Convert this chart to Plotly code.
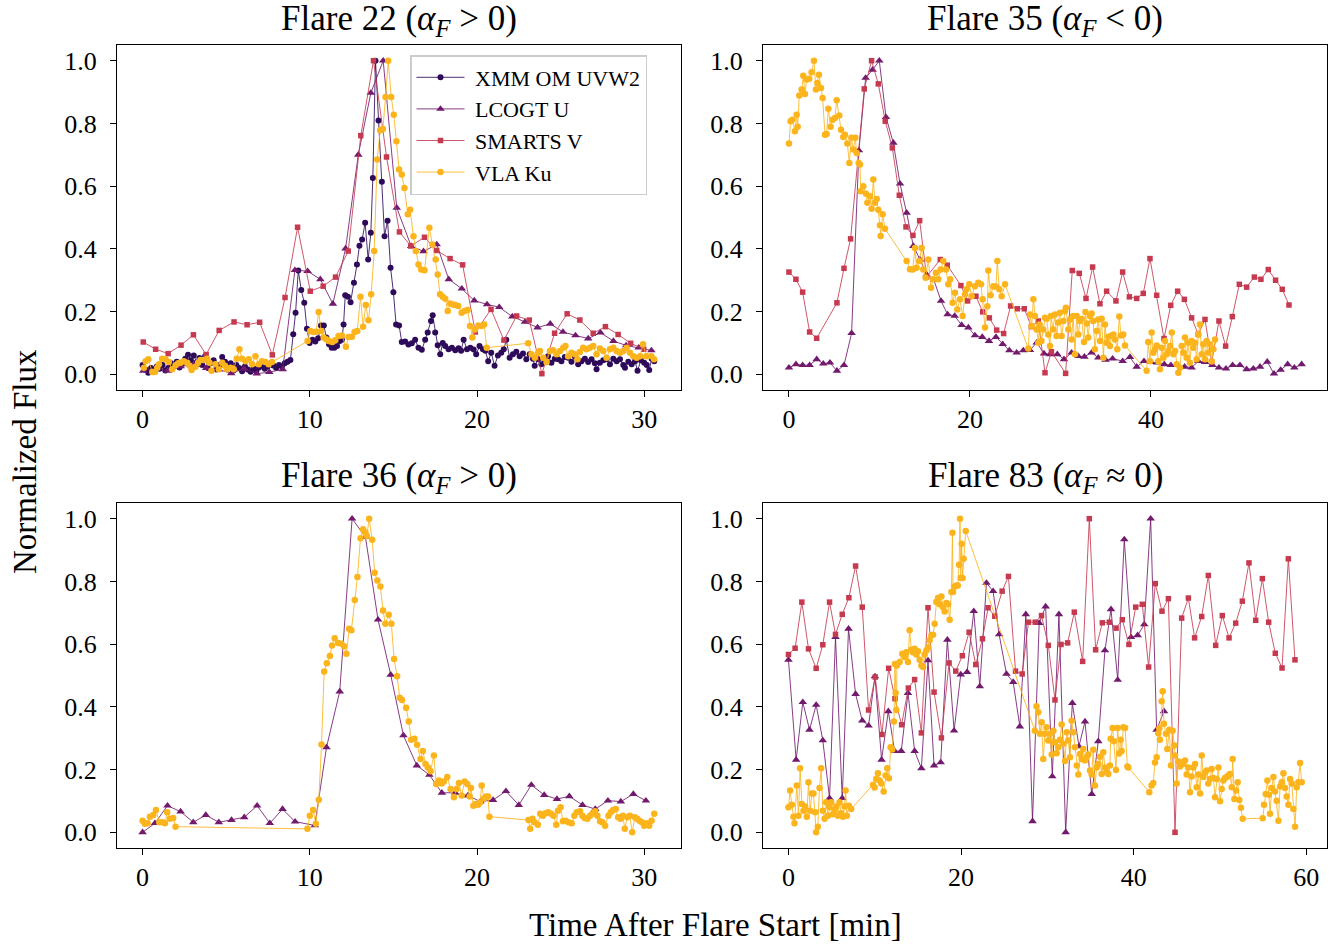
import plotly.graph_objects as go

# ---------------------------------------------------------------------------
# Normalized light curves, (time after flare start [min], normalized flux)
# ---------------------------------------------------------------------------

# Flare 22
f22_xmm = [
    (0.0, .03), (0.17, .015), (0.34, .005), (0.51, .02), (0.68, .01), (0.85, .025), (1.02, .018),
    (1.19, .03), (1.36, .012), (1.53, .02), (1.7, .035), (1.87, .028), (2.04, .04), (2.21, .022),
    (2.38, .035), (2.55, .05), (2.72, .062), (2.89, .045), (3.06, .06), (3.23, .038), (3.4, .052),
    (3.57, .03), (3.74, .058), (3.91, .02), (4.08, .035), (4.25, .045), (4.42, .015), (4.59, .03),
    (4.76, .055), (4.93, .04), (5.1, .025), (5.27, .035), (5.44, .012), (5.61, .03), (5.78, .02),
    (5.95, .01), (6.12, .025), (6.29, .015), (6.46, .008), (6.63, .02), (6.8, .01), (6.97, .022),
    (7.14, .03), (7.31, .018), (7.48, .025), (7.65, .035), (7.82, .028), (7.99, .02), (8.16, .03),
    (8.33, .025), (8.5, .035), (8.67, .04), (8.84, .046), (9.01, .128), (9.15, .196), (9.31, .331),
    (9.49, .269), (9.67, .228), (9.83, .145), (9.99, .10), (10.16, .11), (10.33, .105), (10.5, .115),
    (10.67, .156), (10.84, .156), (10.99, .117), (11.15, .096), (11.31, .085), (11.47, .085),
    (11.63, .09), (11.79, .106), (11.92, .11), (12.02, .159), (12.12, .252), (12.28, .247),
    (12.44, .230), (12.64, .292), (12.82, .35), (12.97, .41), (13.13, .43), (13.31, .483),
    (13.49, .366), (13.65, .451), (13.77, .626), (13.93, 1.0), (14.11, .809), (14.31, .614),
    (14.47, .44), (14.65, .49), (14.83, .34), (15.0, .262), (15.16, .159), (15.34, .156),
    (15.5, .103), (15.7, .105), (15.9, .095), (16.1, .099), (16.3, .11), (16.5, .085), (16.7, .078),
    (16.9, .11), (17.05, .133), (17.25, .17), (17.35, .188), (17.5, .133), (17.65, .093),
    (17.8, .064), (17.95, .1), (18.1, .09), (18.3, .08), (18.5, .085), (18.7, .077), (18.9, .083),
    (19.05, .075), (19.2, .11), (19.4, .08), (19.6, .085), (19.8, .079), (19.95, .064), (20.15, .09),
    (20.35, .08), (20.5, .075), (20.67, .042), (20.85, .069), (21.05, .027), (21.25, .06),
    (21.45, .069), (21.6, .08), (21.75, .11), (21.95, .053), (22.15, .064), (22.35, .072),
    (22.55, .058), (22.75, .066), (22.95, .048), (23.15, .064), (23.35, .05), (23.45, .027),
    (23.65, .048), (23.85, .032), (24.05, .045), (24.25, .058), (24.45, .037), (24.65, .05),
    (24.85, .048), (25.05, .042), (25.25, .055), (25.45, .053), (25.65, .04), (25.85, .058),
    (26.05, .032), (26.25, .042), (26.45, .05), (26.65, .039), (26.85, .048), (27.05, .035),
    (27.15, .016), (27.35, .037), (27.55, .045), (27.75, .048), (27.95, .032), (28.15, .05),
    (28.35, .042), (28.55, .048), (28.75, .03), (28.85, .021), (29.05, .04), (29.25, .032),
    (29.45, .042), (29.6, .011), (29.8, .045), (30.0, .037), (30.15, .03), (30.3, .014),
    (30.45, .05), (30.6, .042),
]
f22_lcogt = [
    (0.04, .011), (0.8, .02), (1.51, .011), (2.28, .025), (3.04, .03), (3.8, .02), (4.56, .015),
    (5.3, .003), (6.07, .018), (6.83, .002), (7.58, .007), (8.38, .016), (9.11, .332), (9.87, .329),
    (10.63, .303), (11.38, .225), (12.14, .401), (12.9, .70), (13.65, .897), (14.39, 1.0),
    (15.2, .531), (16.06, .409), (16.8, .392), (17.59, .414), (18.31, .303), (19.09, .273),
    (19.84, .235), (20.6, .223), (21.33, .214), (22.11, .184), (22.87, .167), (23.62, .149),
    (24.38, .161), (25.14, .135), (25.89, .124), (26.65, .114), (27.38, .133), (28.16, .106),
    (28.92, .092), (29.67, .085), (30.43, .076),
]
f22_smarts = [
    (0.04, .103), (0.78, .08), (1.53, .066), (2.3, .093), (3.04, .126), (3.8, .063), (4.58, .14),
    (5.47, .167), (6.25, .158), (7.0, .166), (7.76, .062), (8.52, .245), (9.27, .469), (10.03, .265),
    (10.8, .281), (11.54, .31), (12.3, .393), (13.05, .761), (13.81, 1.0), (14.59, .693),
    (15.36, .454), (16.04, .409), (16.86, .437), (17.59, .395), (18.39, .369), (19.14, .349),
    (19.9, .135), (20.84, .207), (21.61, .109), (22.37, .186), (23.13, .173), (23.88, .002),
    (24.64, .131), (25.39, .193), (26.15, .173), (26.95, .131), (27.68, .152), (28.44, .127),
    (29.19, .099), (29.97, .08),
]
f22_vla = [
    (0.08, .021), (0.18, .042), (0.34, .048), (0.58, .007), (0.74, .007), (0.88, .021), (0.98, .032),
    (1.17, .05), (1.37, .048), (1.57, .039), (1.77, .016), (1.97, .029), (2.13, .035), (2.27, .037),
    (2.47, .042), (2.67, .037), (2.81, .027), (2.93, .014), (3.16, .024), (3.32, .037), (3.46, .046),
    (3.66, .046), (3.86, .05), (4.0, .037), (4.12, .011), (4.36, .032), (4.56, .016), (4.76, .037),
    (4.92, .027), (5.05, .016), (5.25, .021), (5.45, .016), (5.63, .05), (5.79, .08), (5.95, .05),
    (6.15, .042), (6.35, .048), (6.55, .032), (6.75, .058), (6.95, .032), (7.14, .042), (7.34, .039),
    (7.54, .032), (7.74, .039), (9.87, .106), (10.03, .138), (10.2, .135), (10.38, .136),
    (10.53, .199), (10.68, .138), (10.83, .117), (10.98, .112), (11.13, .106), (11.33, .103),
    (11.52, .109), (11.72, .122), (11.92, .124), (12.16, .088), (12.32, .119), (12.52, .12),
    (12.68, .135), (12.84, .138), (13.03, .247), (13.19, .152), (13.35, .221), (13.51, .172),
    (13.67, .255), (13.85, .393), (14.03, .685), (14.21, .778), (14.37, .782), (14.53, .884),
    (14.69, 1.0), (14.87, .884), (15.02, .828), (15.18, .743), (15.34, .653), (15.5, .637),
    (15.66, .594), (15.86, .51), (16.0, .525), (16.2, .44), (16.34, .393), (16.5, .35), (16.66, .334),
    (16.86, .332), (17.15, .467), (17.33, .414), (17.53, .366), (17.65, .318), (17.79, .255),
    (17.95, .247), (18.1, .241), (18.25, .202), (18.39, .226), (18.55, .223), (18.7, .221),
    (18.88, .218), (19.08, .196), (19.25, .202), (19.44, .205), (19.58, .154), (19.72, .117),
    (19.88, .143), (20.08, .156), (20.27, .154), (20.43, .159), (20.58, .085), (23.06, .099),
    (23.26, .064), (23.46, .053), (23.66, .069), (23.76, .074), (23.96, .053), (24.16, .039),
    (24.36, .074), (24.56, .077), (24.76, .064), (24.96, .074), (25.16, .085), (25.29, .09),
    (25.45, .058), (25.65, .069), (25.85, .064), (26.01, .048), (26.15, .071), (26.35, .085),
    (26.55, .08), (26.75, .085), (26.95, .09), (27.15, .064), (27.35, .082), (27.55, .074),
    (27.75, .053), (27.95, .08), (28.15, .085), (28.35, .074), (28.55, .069), (28.75, .074),
    (28.95, .085), (29.15, .069), (29.35, .058), (29.55, .053), (29.75, .058), (29.93, .096),
    (30.13, .058), (30.43, .058), (30.59, .048),
]

# Flare 35
f35_lcogt = [
    (0.0, .021), (0.77, .032), (1.51, .029), (2.28, .029), (3.06, .048), (3.79, .034), (4.53, .037),
    (5.3, .011), (6.08, .029), (6.92, .131), (7.73, .714), (8.47, .945), (9.24, .971), (9.98, 1.0),
    (10.72, .82), (11.53, .738), (12.27, .608), (13.0, .515), (13.74, .409), (14.48, .366),
    (15.21, .318), (16.02, .30), (16.8, .234), (17.53, .191), (18.31, .186), (19.08, .157),
    (19.82, .149), (20.55, .124), (21.36, .119), (22.1, .106), (22.87, .119), (23.61, .096),
    (24.35, .076), (25.16, .069), (25.89, .076), (26.63, .077), (27.37, .101), (28.18, .066),
    (28.84, .064), (29.65, .064), (30.39, .048), (31.23, .069), (31.97, .058), (32.64, .056),
    (33.44, .069), (34.18, .053), (34.99, .046), (35.76, .05), (36.87, .042), (37.68, .055),
    (38.42, .024), (39.23, .042), (40.0, .039), (40.7, .037), (41.47, .032), (42.2, .029),
    (42.95, .029), (43.72, .024), (44.49, .021), (45.23, .042), (45.97, .039), (46.78, .029),
    (47.51, .021), (48.29, .018), (49.02, .029), (49.83, .029), (50.57, .016), (51.31, .018),
    (52.05, .024), (52.85, .04), (53.59, .002), (54.33, .014), (55.1, .032), (55.84, .021),
    (56.65, .032),
]
f35_smarts = [
    (0.0, .326), (0.77, .303), (1.51, .262), (2.28, .135), (3.06, .115), (5.3, .228), (6.08, .338),
    (6.81, .432), (8.32, .91), (9.13, 1.0), (9.87, .926), (10.64, .807), (11.42, .722), (12.19, .571),
    (12.93, .47), (13.7, .443), (14.44, .49), (15.21, .311), (16.72, .366), (17.49, .348),
    (19.0, .283), (19.74, .234), (20.66, .249), (21.4, .199), (22.14, .18), (22.95, .141),
    (23.72, .13), (24.49, .218), (25.23, .209), (26.0, .209), (26.78, .152), (27.55, .17),
    (28.29, .005), (29.0, .072), (30.57, .003), (31.3, .331), (32.08, .322), (32.82, .242),
    (33.55, .342), (34.36, .225), (35.1, .265), (36.13, .234), (36.87, .326), (37.61, .247),
    (38.42, .242), (39.15, .258), (39.89, .369), (40.63, .252), (41.44, .114), (42.18, .22),
    (42.95, .265), (43.69, .239), (44.49, .18), (45.23, .127), (45.97, .175), (46.71, .039),
    (47.51, .17), (48.25, .09), (48.99, .184), (49.76, .287), (50.57, .278), (51.42, .31),
    (52.15, .303), (52.96, .334), (53.77, .30), (54.51, .271), (55.25, .221),
]
f35_vla = [
    (0.0, .736), (0.18, .807), (0.37, .812), (0.66, .775), (0.85, .828), (0.96, .789), (1.14, .889),
    (1.4, .908), (1.58, .952), (1.77, .894), (1.95, .94), (2.24, .942), (2.5, .963), (2.76, 1.0),
    (2.98, .908), (3.13, .929), (3.31, .955), (3.54, .913), (3.72, .881), (3.98, .764), (4.16, .766),
    (4.35, .847), (4.6, .789), (4.83, .812), (5.08, .817), (5.27, .874), (5.56, .825), (5.75, .78),
    (6.0, .757), (6.19, .764), (6.45, .736), (6.67, .674), (6.89, .754), (7.1, .717), (7.33, .754),
    (7.48, .706), (7.7, .674), (7.85, .669), (7.92, .584), (8.21, .60), (8.51, .576), (8.66, .547),
    (8.95, .568), (9.13, .528), (9.32, .621), (9.5, .547), (9.69, .559), (9.87, .525), (10.06, .475),
    (10.13, .441), (10.35, .51), (10.61, .464), (13.0, .361), (13.37, .335), (13.67, .334),
    (13.92, .403), (14.1, .34), (14.4, .361), (14.66, .403), (14.84, .334), (15.1, .308),
    (15.4, .366), (15.69, .276), (15.95, .303), (16.24, .324), (16.5, .303), (16.76, .334),
    (17.05, .361), (17.35, .334), (17.6, .287), (17.82, .303), (18.08, .228), (18.34, .26),
    (18.6, .207), (18.9, .239), (19.19, .186), (19.45, .255), (19.63, .271), (19.93, .287),
    (20.18, .249), (20.55, .281), (20.92, .292), (21.22, .287), (21.4, .239), (21.66, .149),
    (21.92, .217), (22.03, .331), (22.28, .252), (22.58, .281), (22.87, .279), (23.02, .361),
    (23.24, .271), (23.5, .249), (23.87, .287), (26.45, .082), (26.63, .191), (26.82, .154),
    (27.0, .239), (27.18, .186), (27.37, .143), (27.55, .101), (27.7, .159), (27.9, .106),
    (28.1, .143), (28.29, .18), (28.47, .177), (28.65, .127), (28.84, .09), (28.96, .186),
    (29.18, .143), (29.39, .191), (29.57, .122), (29.76, .165), (29.94, .196), (30.13, .122),
    (30.32, .17), (30.5, .202), (30.6, .212), (30.87, .143), (31.05, .175), (31.23, .111),
    (31.4, .186), (31.6, .064), (31.78, .186), (31.97, .127), (32.15, .17), (32.34, .177),
    (32.6, .103), (32.76, .199), (32.9, .162), (33.07, .117), (33.26, .186), (33.44, .194),
    (33.62, .17), (33.8, .08), (34.0, .138), (34.18, .175), (34.37, .106), (34.55, .177),
    (34.74, .053), (34.92, .159), (35.1, .101), (35.29, .12), (35.47, .09), (35.66, .124),
    (35.85, .127), (36.03, .111), (36.28, .08), (36.5, .184), (36.68, .124), (36.94, .127),
    (37.13, .092), (39.52, .011), (39.7, .103), (39.89, .042), (40.07, .133), (40.26, .069),
    (40.44, .08), (40.63, .092), (40.81, .042), (40.99, .016), (41.18, .085), (41.37, .053),
    (41.55, .106), (41.74, .064), (41.92, .074), (42.11, .09), (42.3, .133), (42.48, .064),
    (42.67, .074), (42.84, .032), (43.02, .005), (43.2, .021), (43.39, .09), (43.57, .069),
    (43.76, .117), (43.94, .053), (44.13, .101), (44.3, .037), (44.49, .106), (44.68, .085),
    (44.87, .101), (45.05, .048), (45.23, .127), (45.41, .159), (45.6, .064), (45.78, .096),
    (45.97, .048), (46.15, .106), (46.34, .069), (46.52, .096), (46.7, .042), (46.89, .08),
    (47.08, .111),
]

# Flare 36
f36_lcogt = [
    (0.0, 0.0), (0.74, .029), (1.49, .085), (2.27, .066), (3.03, .032), (3.78, .055), (4.56, .032),
    (5.32, .039), (6.08, .048), (6.85, .085), (7.61, .029), (8.37, .074), (9.12, .034), (10.3, .022),
    (11.0, .271), (11.79, .449), (12.53, 1.0), (13.33, .941), (14.08, .678), (14.84, .502),
    (15.6, .309), (16.4, .213), (17.15, .183), (17.9, .126), (18.7, .126), (19.46, .117),
    (20.2, .098), (20.96, .103), (21.73, .131), (22.5, .087), (23.25, .151), (24.02, .119),
    (24.78, .106), (25.52, .115), (26.31, .087), (27.07, .074), (27.83, .101), (28.6, .098),
    (29.35, .122), (30.1, .101),
]
f36_vla = [
    (0.0, .037), (0.14, .027), (0.3, .029), (0.44, .05), (0.64, .055), (0.8, .071), (1.0, .032),
    (1.2, .032), (1.34, .029), (1.47, .064), (1.63, .043), (1.83, .046), (1.97, .018), (9.86, .011),
    (10.0, .053), (10.2, .071), (10.36, .027), (10.54, .104), (10.7, .28), (10.86, .513),
    (11.02, .539), (11.2, .562), (11.33, .596), (11.49, .619), (11.69, .604), (11.89, .601),
    (12.05, .593), (12.19, .569), (12.35, .649), (12.49, .644), (12.69, .741), (12.85, .814),
    (13.03, .938), (13.19, .966), (13.33, .955), (13.41, .945), (13.55, 1.0), (13.73, .933),
    (13.88, .828), (14.04, .803), (14.22, .784), (14.38, .707), (14.52, .665), (14.72, .694),
    (14.88, .665), (15.04, .553), (15.22, .498), (15.38, .429), (15.52, .422), (15.76, .397),
    (15.92, .353), (16.06, .295), (16.26, .298), (16.42, .279), (16.62, .234), (16.76, .259),
    (16.92, .218), (17.06, .207), (17.22, .195), (17.42, .245), (17.56, .154), (17.72, .165),
    (17.88, .156), (18.02, .162), (18.22, .176), (18.42, .138), (18.62, .112), (18.78, .138),
    (18.92, .157), (19.08, .117), (19.26, .162), (19.42, .154), (19.56, .114), (19.64, .141),
    (19.78, .085), (19.92, .09), (20.06, .088), (20.18, .095), (20.28, .149), (20.42, .109),
    (20.56, .114), (20.66, .114), (20.74, .05), (23.08, .039), (23.18, .011), (23.32, .043),
    (23.44, .032), (23.64, .024), (23.78, .059), (23.94, .053), (24.1, .061), (24.26, .064),
    (24.42, .059), (24.58, .053), (24.74, .024), (24.84, .069), (25.0, .08), (25.14, .035),
    (25.3, .037), (25.46, .032), (25.66, .029), (25.82, .053), (25.96, .064), (26.16, .067),
    (26.3, .053), (26.44, .046), (26.6, .043), (26.76, .053), (26.9, .059), (27.06, .067),
    (27.2, .053), (27.36, .035), (27.5, .032), (27.66, .021), (27.86, .053), (28.0, .064),
    (28.14, .071), (28.3, .074), (28.44, .048), (28.58, .043), (28.72, .053), (28.84, .011),
    (28.98, .048), (29.14, .053), (29.28, .0), (29.44, .048), (29.58, .043), (29.72, .037),
    (29.86, .032), (30.0, .021), (30.16, .029), (30.3, .021), (30.44, .037), (30.6, .059),
]

# Flare 83
f83_lcogt = [
    (0.0, .55), (0.89, .231), (1.66, .415), (2.44, .327), (3.21, .406), (3.98, .293), (4.76, .109),
    (5.45, .622), (6.23, .109), (6.96, .649), (7.78, .441), (8.55, .356), (9.28, .34), (10.02, .497),
    (10.79, .231), (11.57, .386), (12.3, .259), (13.07, .259), (13.85, .444), (14.62, .259),
    (15.4, .204), (16.17, .548), (16.87, .213), (17.64, .223), (18.41, .614), (19.19, .324),
    (19.96, .503), (20.7, .511), (21.47, .705), (22.17, .465), (22.94, .795), (23.71, .769),
    (24.41, .631), (25.26, .505), (26.04, .479), (26.81, .337), (27.5, .695), (28.28, .035),
    (29.05, .667), (29.8, .72), (30.57, .178), (31.34, .695), (32.12, .0), (32.89, .412),
    (33.66, .274), (34.36, .353), (35.14, .122), (35.9, .29), (36.67, .58), (37.37, .711),
    (38.15, .486), (38.91, .934), (39.69, .622), (40.46, .628), (41.23, .663), (41.97, 1.0),
    (42.66, .327), (43.51, .386),
]
f83_smarts = [
    (0.0, .567), (0.77, .587), (1.55, .734), (2.32, .585), (3.21, .523), (3.98, .598), (4.76, .734),
    (5.45, .631), (6.23, .695), (7.0, .748), (7.78, .849), (8.55, .718), (9.28, .39), (10.06, .495),
    (10.83, .312), (11.61, .523), (12.34, .426), (13.11, .343), (13.89, .46), (14.62, .487),
    (15.4, .317), (16.17, .716), (16.87, .447), (17.72, .301), (18.61, .54), (19.38, .514),
    (20.15, .563), (20.93, .638), (21.7, .535), (22.48, .617), (23.13, .716), (23.91, .689),
    (24.76, .769), (25.49, .816), (26.31, .514), (27.08, .505), (27.81, .67), (28.59, .67),
    (29.32, .691), (30.11, .596), (30.88, .422), (31.58, .599), (32.35, .604), (33.12, .702),
    (34.09, .545), (34.86, 1.0), (35.59, .582), (36.37, .668), (37.18, .67), (37.96, .651),
    (38.68, .678), (39.45, .599), (40.23, .718), (41.0, .727), (41.73, .527), (42.5, .793),
    (43.28, .705), (44.02, .745), (44.79, .0), (45.56, .683), (46.34, .747), (47.06, .62),
    (47.88, .688), (48.65, .819), (49.5, .596), (50.27, .691), (51.05, .62), (51.82, .667),
    (52.59, .737), (53.36, .859), (54.14, .676), (54.91, .809), (55.64, .67), (56.41, .571),
    (57.19, .524), (57.92, .872), (58.69, .55),
]
f83_vla = [
    (0.0, .08), (0.19, .133), (0.39, .088), (0.58, .05), (0.7, .029), (0.97, .149), (1.16, .053),
    (1.35, .204), (1.55, .09), (1.74, .069), (1.93, .082), (2.13, .05), (2.32, .16), (2.52, .069),
    (2.71, .124), (2.9, .124), (3.09, .064), (3.21, .0), (3.4, .018), (3.6, .141), (3.79, .204),
    (3.98, .069), (4.18, .043), (4.37, .096), (4.57, .053), (4.76, .08), (4.95, .096), (5.14, .058),
    (5.34, .071), (5.53, .082), (5.73, .053), (5.92, .096), (6.12, .061), (6.31, .05), (6.5, .082),
    (6.62, .133), (6.77, .053), (7.0, .085), (7.27, .074), (9.79, .152), (9.98, .143), (10.17, .17),
    (10.37, .188), (10.56, .165), (10.75, .156), (11.03, .13), (11.26, .181), (11.45, .204),
    (11.64, .172), (11.84, .271), (12.03, .264), (12.22, .353), (12.34, .537), (12.42, .444),
    (12.5, .39), (12.57, .532), (12.88, .543), (13.19, .569), (13.46, .559), (13.66, .574),
    (13.85, .543), (14.04, .644), (14.24, .582), (14.43, .574), (14.62, .585), (14.82, .567),
    (15.01, .577), (15.2, .55), (15.4, .532), (15.59, .527), (15.78, .567), (15.98, .58),
    (16.17, .59), (16.36, .612), (16.56, .628), (16.75, .63), (16.94, .665), (17.14, .734),
    (17.33, .747), (17.52, .727), (17.72, .752), (17.91, .718), (18.1, .704), (18.3, .731),
    (18.49, .727), (18.68, .678), (18.88, .766), (19.0, .955), (19.07, .766), (19.26, .784),
    (19.46, .787), (19.62, .787), (19.77, .853), (19.88, 1.0), (19.96, .811), (20.07, .92),
    (20.18, .811), (20.3, .872), (20.54, .961), (28.55, .324), (28.74, .402), (28.94, .383),
    (29.14, .314), (29.33, .351), (29.52, .234), (29.71, .314), (29.9, .335), (30.11, .293),
    (30.3, .314), (30.5, .248), (30.7, .324), (30.88, .287), (31.07, .252), (31.27, .271),
    (31.46, .295), (31.65, .344), (31.85, .282), (32.04, .227), (32.24, .319), (32.43, .293),
    (32.62, .239), (32.81, .356), (33.01, .319), (33.2, .271), (33.4, .213), (33.59, .184),
    (33.78, .25), (33.97, .234), (34.16, .266), (34.35, .229), (34.55, .239), (34.74, .248),
    (34.94, .197), (35.13, .184), (35.32, .263), (35.51, .149), (35.71, .207), (35.9, .218),
    (36.09, .241), (36.29, .186), (36.48, .255), (36.68, .207), (36.87, .195), (37.06, .186),
    (37.25, .213), (37.33, .298), (37.56, .333), (37.71, .29), (37.95, .199), (38.14, .333),
    (38.33, .251), (38.49, .295), (38.6, .259), (38.8, .335), (39.0, .333), (39.27, .21),
    (39.38, .207), (41.81, .128), (42.08, .149), (42.27, .157), (42.47, .223), (42.66, .239),
    (42.85, .316), (42.97, .332), (43.04, .295), (43.24, .418), (43.36, .45), (43.51, .346),
    (43.74, .314), (43.9, .266), (44.13, .327), (44.32, .213), (44.51, .324), (44.71, .277),
    (44.79, .245), (44.98, .156), (45.17, .226), (45.37, .21), (45.56, .223), (45.76, .218),
    (45.95, .229), (46.14, .184), (46.34, .207), (46.53, .128), (46.72, .178), (46.92, .207),
    (47.11, .218), (47.3, .144), (47.5, .184), (47.69, .124), (47.88, .245), (48.08, .176),
    (48.27, .191), (48.46, .197), (48.65, .156), (48.85, .17), (49.04, .202), (49.24, .173),
    (49.43, .112), (49.62, .170), (49.82, .207), (50.01, .099), (50.2, .138), (50.39, .165),
    (50.58, .173), (50.78, .176), (50.97, .181), (51.16, .186), (51.36, .144), (51.47, .234),
    (51.67, .106), (51.86, .133), (52.05, .16), (52.24, .103), (52.43, .078), (52.63, .043),
    (54.95, .045), (55.1, .088), (55.3, .122), (55.49, .165), (55.68, .120), (55.8, .059),
    (55.99, .141), (56.19, .176), (56.38, .13), (56.57, .101), (56.77, .037), (56.96, .146),
    (57.15, .16), (57.35, .188), (57.54, .141), (57.73, .114), (57.93, .088), (58.12, .17),
    (58.31, .156), (58.5, .074), (58.7, .018), (58.89, .144), (59.08, .16), (59.28, .221),
    (59.47, .16),
]

panel_titles = [
    "Flare 22 (<i>α</i><sub><i>F</i></sub> &gt; 0)",
    "Flare 35 (<i>α</i><sub><i>F</i></sub> &lt; 0)",
    "Flare 36 (<i>α</i><sub><i>F</i></sub> &gt; 0)",
    "Flare 83 (<i>α</i><sub><i>F</i></sub> ≈ 0)",
]
x_ticks = [[0, 10, 20, 30], [0, 20, 40], [0, 10, 20, 30], [0, 20, 40, 60]]
x_ranges = [[-1.53, 32.2], [-2.87, 59.45], [-1.53, 32.2], [-2.95, 62.4]]
y_ticks = [0.0, 0.2, 0.4, 0.6, 0.8, 1.0]

# instrument styles (inferno-like colours)
styles = {
    "XMM OM UVW2": dict(color="#2d0b5a", line="rgba(45,11,90,0.85)", symbol="circle", size=6),
    "LCOGT U": dict(color="#721a6e", line="rgba(114,26,110,0.85)", symbol="triangle-up", size=7.5),
    "SMARTS V": dict(color="#c63a50", line="rgba(198,58,80,0.85)", symbol="square", size=5.5),
    "VLA Ku": dict(color="#fbb41c", line="rgba(251,180,28,0.85)", symbol="circle", size=6.5),
}

panels = [
    {"XMM OM UVW2": f22_xmm, "LCOGT U": f22_lcogt, "SMARTS V": f22_smarts, "VLA Ku": f22_vla},
    {"LCOGT U": f35_lcogt, "SMARTS V": f35_smarts, "VLA Ku": f35_vla},
    {"LCOGT U": f36_lcogt, "VLA Ku": f36_vla},
    {"LCOGT U": f83_lcogt, "SMARTS V": f83_smarts, "VLA Ku": f83_vla},
]

W, H = 1338, 946
col_px = [(117, 681), (763, 1327)]
row_px = [(45, 390), (503, 848)]

FONT = "Liberation Serif"
NBSP = "\u00a0"
fig = go.Figure()

for i, series in enumerate(panels):
    ax = "" if i == 0 else str(i + 1)
    for name, pts in series.items():
        st = styles[name]
        t, y = zip(*pts)
        fig.add_trace(go.Scatter(
            x=list(t), y=list(y), mode="lines+markers", name=NBSP + name,
            xaxis="x" + ax, yaxis="y" + ax,
            line=dict(color=st["line"], width=1.0),
            marker=dict(color=st["color"], symbol=st["symbol"], size=st["size"], line=dict(width=0)),
            showlegend=(i == 0),
        ))

axis_common = dict(
    showline=True, mirror=True, linecolor="black", linewidth=1.3,
    ticks="outside", ticklen=6, tickwidth=1.3, tickcolor="black",
    showgrid=False, zeroline=False, tickfont=dict(size=26, family=FONT, color="black"),
)

layout = dict(
    width=W, height=H, margin=dict(l=0, r=0, t=0, b=0),
    paper_bgcolor="white", plot_bgcolor="white",
    font=dict(family=FONT, color="black"),
    legend=dict(
        x=410 / W, y=1 - 55 / H, xanchor="left", yanchor="top",
        bgcolor="rgba(255,255,255,0.85)", bordercolor="#cccccc", borderwidth=1.5,
        font=dict(size=22, family=FONT, color="black"), itemwidth=48,
        tracegroupgap=0,
    ),
)

annotations = []
for i in range(4):
    r, c = divmod(i, 2)
    x0, x1 = col_px[c]
    y0, y1 = row_px[r]
    ax = "" if i == 0 else str(i + 1)
    layout["xaxis" + ax] = dict(
        axis_common, domain=[x0 / W, x1 / W], range=x_ranges[i],
        tickvals=x_ticks[i], anchor="y" + ax, ticklabelstandoff=0,
    )
    layout["yaxis" + ax] = dict(
        axis_common, domain=[1 - y1 / H, 1 - y0 / H], range=[-0.05, 1.05],
        tickvals=y_ticks, tickformat=".1f", anchor="x" + ax, ticklabelstandoff=8,
    )
    annotations.append(dict(
        text=panel_titles[i], x=(x0 + x1) / 2 / W, y=1 - (y0 - 25) / H,
        xref="paper", yref="paper", xanchor="center", yanchor="middle",
        showarrow=False, font=dict(size=35, family=FONT, color="black"),
    ))

annotations.append(dict(
    text="Normalized Flux", x=25 / W, y=1 - 462 / H, xref="paper", yref="paper",
    xanchor="center", yanchor="middle", textangle=-90, showarrow=False,
    font=dict(size=33, family=FONT, color="black"),
))
annotations.append(dict(
    text="Time After Flare Start [min]", x=715 / W, y=1 - 925 / H, xref="paper", yref="paper",
    xanchor="center", yanchor="middle", showarrow=False,
    font=dict(size=33, family=FONT, color="black"),
))
layout["annotations"] = annotations

fig.update_layout(**layout)
fig.write_html("out.html", config={"displayModeBar": False})
